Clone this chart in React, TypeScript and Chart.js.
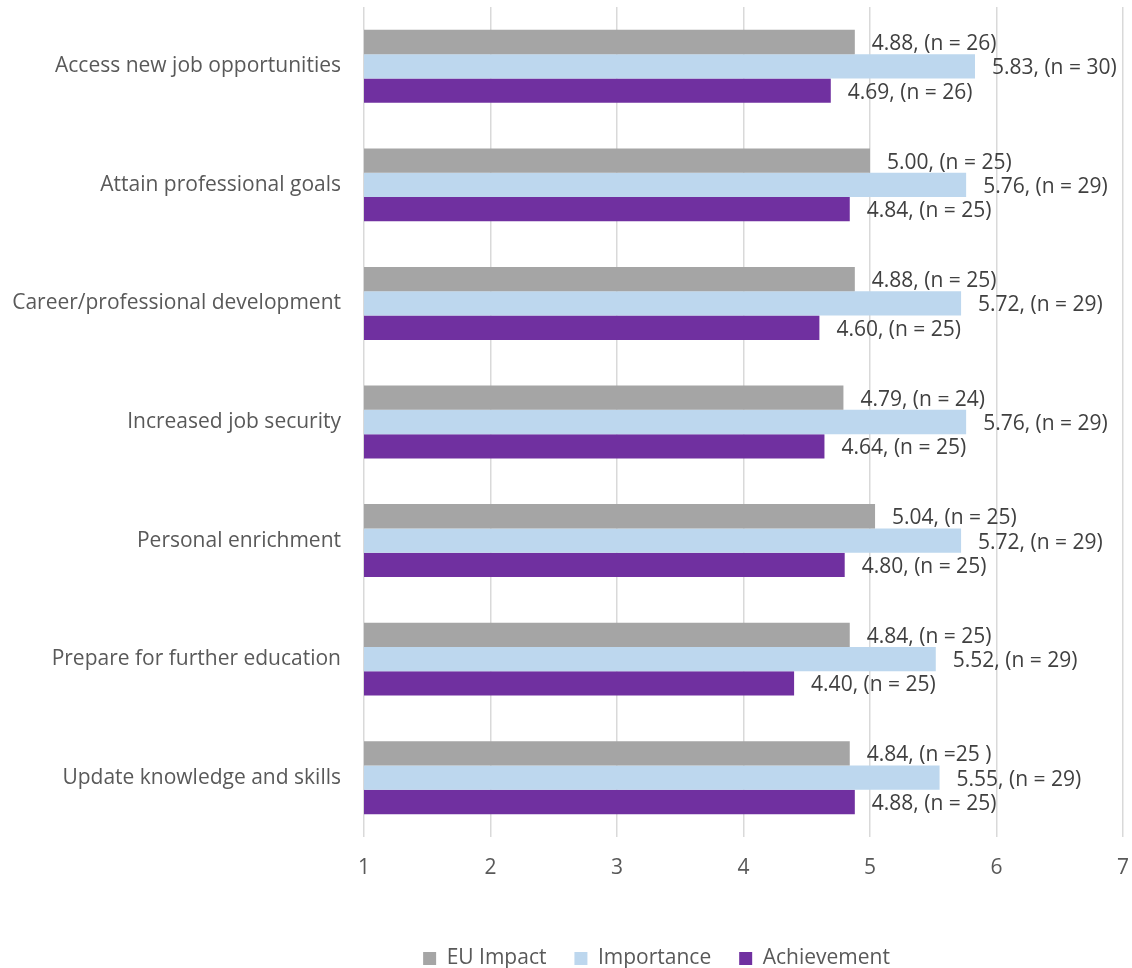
import { useEffect, useRef } from "react";
import { Chart, registerables } from "chart.js";

Chart.register(...registerables);

const categories = [
  "Access new job opportunities",
  "Attain professional goals",
  "Career/professional development",
  "Increased job security",
  "Personal enrichment",
  "Prepare for further education",
  "Update knowledge and skills",
];

const euImpact = [4.88, 5.0, 4.88, 4.79, 5.04, 4.84, 4.84];
const euImpactN = [26, 25, 25, 24, 25, 25, 25];
const importance = [5.83, 5.76, 5.72, 5.76, 5.72, 5.52, 5.55];
const importanceN = [30, 29, 29, 29, 29, 29, 29];
const achievement = [4.69, 4.84, 4.6, 4.64, 4.8, 4.4, 4.88];
const achievementN = [26, 25, 25, 25, 25, 25, 25];

// label text exactly as printed (one label in the source has odd spacing)
const labelOverrides: Record<string, string> = { "0-6": "4.84, (n =25 )" };

const xMin = 1;
const xMax = 7;
const xStep = 1;

const FONT = "'Open Sans'";
const SIZE = 21;
const fmt = (v: number, n: number) => `${v.toFixed(2)}, (n = ${n})`;

const seriesValues = [euImpact, importance, achievement];
const seriesN = [euImpactN, importanceN, achievementN];

const barLabels = {
  id: "barLabels",
  afterDatasetsDraw(chart: any) {
    const ctx = chart.ctx;
    ctx.save();
    ctx.font = `${SIZE}px ${FONT}`;
    ctx.fillStyle = "#404040";
    ctx.textAlign = "left";
    ctx.textBaseline = "middle";
    chart.data.datasets.forEach((_ds: any, di: number) => {
      const meta = chart.getDatasetMeta(di);
      meta.data.forEach((el: any, i: number) => {
        const key = `${di}-${i}`;
        const text = labelOverrides[key] ?? fmt(seriesValues[di][i], seriesN[di][i]);
        ctx.fillText(text, el.x + 17, el.y + 2);
      });
    });
    ctx.restore();
  },
};

// the source legend sits right of the canvas centre
const legendShift = {
  id: "legendShift",
  afterLayout(chart: any) {
    const lg = chart.legend;
    if (!lg) return;
    lg.left += 95;
    lg.right += 95;
  },
};

export default function App() {
  const ref = useRef<HTMLCanvasElement | null>(null);

  useEffect(() => {
    if (!ref.current) return;
    const chart = new Chart(ref.current, {
      type: "bar",
      data: {
        labels: categories,
        datasets: [
          { label: "EU Impact", data: euImpact, backgroundColor: "#a5a5a5" },
          { label: "Importance", data: importance, backgroundColor: "#bdd7ee" },
          { label: "Achievement", data: achievement, backgroundColor: "#7030a0" },
        ],
      },
      options: {
        indexAxis: "y",
        animation: false,
        responsive: true,
        maintainAspectRatio: false,
        datasets: { bar: { barPercentage: 1, categoryPercentage: 0.615 } },
        layout: { padding: { top: 7, right: 9, left: 0, bottom: -11 } },
        scales: {
          x: {
            min: xMin,
            max: xMax,
            ticks: { stepSize: xStep, color: "#595959", font: { family: FONT, size: SIZE }, padding: 18 },
            grid: { color: "#d9d9d9", lineWidth: 1.5, drawTicks: false },
            border: { display: false },
            afterFit: (scale: any) => {
              scale.height = 83;
              scale.paddingLeft = 0;
              scale.paddingRight = 0;
            },
          },
          y: {
            ticks: { color: "#595959", font: { family: FONT, size: SIZE }, padding: 23 },
            grid: { display: false, drawTicks: false },
            border: { display: false },
            afterFit: (scale: any) => {
              scale.width = 364;
              scale.paddingTop = 0;
              scale.paddingBottom = 0;
            },
          },
        },
        plugins: {
          legend: {
            position: "bottom",
            labels: {
              boxWidth: 13,
              boxHeight: 13,
              padding: 28,
              color: "#595959",
              font: { family: FONT, size: SIZE },
            },
          },
          tooltip: { enabled: false },
        },
      },
      plugins: [barLabels, legendShift],
    });
    return () => chart.destroy();
  }, []);

  return (
    <div style={{ position: "fixed", left: 0, top: 0, width: 1132, height: 968 }}>
      <canvas ref={ref} />
    </div>
  );
}
